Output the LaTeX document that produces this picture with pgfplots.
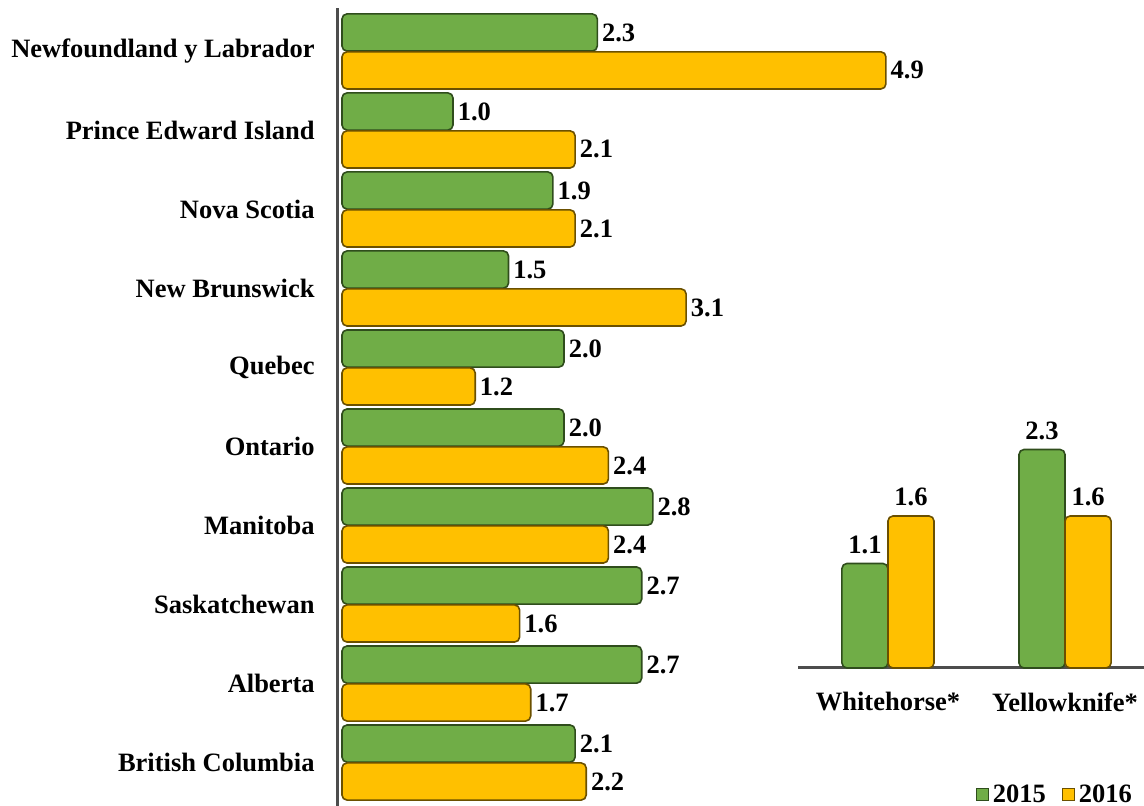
\documentclass[border=0pt]{standalone}
\usepackage{fontspec}
\setmainfont{LiberationSerif}[
  Extension=.ttf,
  UprightFont=*-Regular,
  BoldFont=*-Bold,
  ItalicFont=*-Italic,
  BoldItalicFont=*-BoldItalic]
\usepackage{pgfplots}
\pgfplotsset{compat=1.18}

\definecolor{barGreen}{HTML}{70AD47}
\definecolor{barGreenEdge}{HTML}{2F4D1C}
\definecolor{barGold}{HTML}{FFC000}
\definecolor{barGoldEdge}{HTML}{6B5000}
\definecolor{axisGrey}{HTML}{4D4D4D}
\newcommand\lbl{\fontsize{13.25}{15.9}\selectfont\bfseries}

\pgfplotsset{
  green bars/.style={fill=barGreen, draw=barGreenEdge, line width=0.8pt, rounded corners=2.5pt},
  gold bars/.style={fill=barGold, draw=barGoldEdge, line width=0.8pt, rounded corners=2.5pt},
  value labels/.style={
    clip=false,
    nodes near coords={\pgfmathprintnumber[fixed,fixed zerofill,precision=1]{\pgfplotspointmeta}},
    /pgf/number format/assume math mode=true,
  },
}

\begin{document}
\begin{tikzpicture}
% provinces: horizontal bars
\begin{axis}[
  at={(168.5pt,0pt)}, anchor=south west,
  scale only axis, width=280pt, height=399pt,
  xbar, bar width=0.47,
  xmin=-0.045, xmax=5, ymin=-0.55, ymax=9.55,
  axis x line=none, axis y line*=left,
  axis line style={axisGrey, line width=1.5pt},
  ytick={0,...,9},
  yticklabels={British Columbia, Alberta, Saskatchewan, Manitoba, Ontario, Quebec, New Brunswick, Nova Scotia, Prince Edward Island, Newfoundland y Labrador},
  major tick length=0pt,
  yticklabel style={font=\lbl, inner sep=0pt, xshift=-11pt},
  value labels,
  point meta=x,
  nodes near coords align={horizontal},
  every node near coord/.append style={font=\lbl, inner sep=2pt, text=black},
]
% 2015
\addplot[green bars, bar shift=0.24] coordinates {
  (2.1,0) (2.7,1) (2.7,2) (2.8,3) (2.0,4) (2.0,5) (1.5,6) (1.9,7) (1.0,8) (2.3,9)};
% 2016
\addplot[gold bars, bar shift=-0.24] coordinates {
  (2.2,0) (1.7,1) (1.6,2) (2.4,3) (2.4,4) (1.2,5) (3.1,6) (2.1,7) (2.1,8) (4.9,9)};
\end{axis}

% territorial capitals: vertical bars
\begin{axis}[
  at={(399pt,69pt)}, anchor=south west,
  scale only axis, width=173pt, height=123.5pt,
  ybar, bar width=0.26,
  xmin=-0.508, xmax=1.446, ymin=0, ymax=2.6,
  axis y line=none, axis x line*=bottom,
  axis line style={axisGrey, line width=1.5pt},
  xtick={0,1}, xticklabels={Whitehorse*, Yellowknife*},
  major tick length=0pt,
  xticklabel style={font=\lbl, inner sep=0pt, yshift=-12pt},
  value labels,
  point meta=y,
  every node near coord/.append style={font=\lbl, inner sep=4.5pt, text=black},
  legend image code/.code={\draw[#1, rounded corners=0pt, line width=0.5pt] (0pt,-3pt) rectangle (6pt,3pt);},
  legend style={at={(0.745,-0.514)}, anchor=center, draw=none, fill=none,
    font=\lbl, inner sep=0pt, legend columns=2,
    /tikz/every even column/.append style={column sep=6pt}},
]
\addplot[green bars, bar shift=-0.13] coordinates {(0,1.1) (1,2.3)};
\addplot[gold bars, bar shift=0.13] coordinates {(0,1.6) (1,1.6)};
\legend{2015,2016}
\end{axis}
\pgfresetboundingbox
\path[use as bounding box] (0,0) rectangle (572pt,403pt);
\end{tikzpicture}
\end{document}
